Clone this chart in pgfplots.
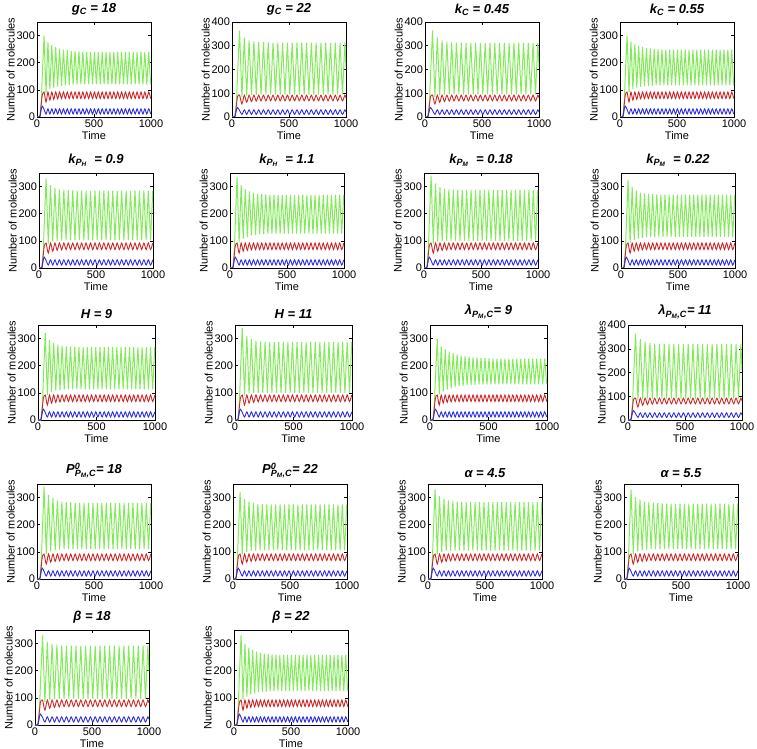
\documentclass[border=0pt]{standalone}
\usepackage{fontspec}
\setmainfont{Liberation Sans}
\usepackage{pgfplots}
\usepackage{pgfplotstable}
\pgfplotsset{compat=1.18}
\definecolor{cg}{RGB}{130,235,90}
\definecolor{cr}{RGB}{205,40,40}
\definecolor{cb}{RGB}{45,45,225}

% Group A: period ~34 (g_C=18, k_C=0.55, lambda=9, beta=22)
\pgfplotstableread{
t a1 a2 a3 a4 r b
0 0 0 0 0 0 0
25 0 0 0 0 2 2
38 60 60 60 70 50 30
46 150 150 150 170 80 40
62 300 300 298 332 92 28
79 90 92 95 95 55 11
96 275 278 270 300 92 30
113 102 103 105 105 62 11
130 265 268 260 285 92 30
147 108 108 112 112 65 11
164 258 262 252 276 92 30
181 112 111 117 117 67 11
198 252 258 246 270 92 30
215 115 113 121 120 68 11
232 248 255 242 266 92 30
249 117 115 124 122 68 11
266 246 253 238 263 92 30
283 118 116 126 123 68 11
300 244 251 235 261 92 30
317 119 117 128 124 68 11
334 243 250 233 260 92 30
351 120 117 129 125 68 11
368 242 249 231 259 92 30
385 120 117 130 125 68 11
402 241 248 230 258 92 30
419 120 117 131 125 68 11
436 240 248 229 258 92 30
453 120 117 131 125 68 11
470 240 248 228 258 92 30
487 120 117 131 125 68 11
504 240 248 227 258 92 30
521 120 117 131 125 68 11
538 240 248 226 258 92 30
555 120 117 131 125 68 11
572 240 248 226 258 92 30
589 120 117 131 125 68 11
606 240 248 226 258 92 30
623 120 117 131 125 68 11
640 240 248 226 258 92 30
657 120 117 131 125 68 11
674 240 248 226 258 92 30
691 120 117 131 125 68 11
708 240 248 226 258 92 30
725 120 117 131 125 68 11
742 240 248 226 258 92 30
759 120 117 131 125 68 11
776 240 248 226 258 92 30
793 120 117 131 125 68 11
810 240 248 226 258 92 30
827 120 117 131 125 68 11
844 240 248 226 258 92 30
861 120 117 131 125 68 11
878 240 248 226 258 92 30
895 120 117 131 125 68 11
912 240 248 226 258 92 30
929 120 117 131 125 68 11
946 240 248 226 258 92 30
963 120 117 131 125 68 11
980 240 248 226 258 92 30
997 120 117 131 125 68 11
}\tabA

% Group B: period ~36 (k_PH=1.1, k_PM=0.22, H=9)
\pgfplotstableread{
t b1 b2 b3 r b
0 0 0 0 0 0
25 0 0 0 2 2
38 65 60 60 50 30
46 160 150 150 80 40
62 335 325 320 92 28
80 95 92 92 55 11
98 305 298 295 92 30
116 108 103 103 62 11
134 290 285 285 92 30
152 115 108 108 65 11
170 282 278 278 92 30
188 119 111 110 67 11
206 277 275 274 92 30
224 122 113 112 68 11
242 274 273 271 92 30
260 124 114 113 68 11
278 272 272 270 92 30
296 125 115 113 68 11
314 271 271 269 92 30
332 126 115 113 68 11
350 270 270 268 92 30
368 127 115 113 68 11
386 269 270 268 92 30
404 127 115 113 68 11
422 269 270 268 92 30
440 127 115 113 68 11
458 269 270 268 92 30
476 127 115 113 68 11
494 269 270 268 92 30
512 127 115 113 68 11
530 269 270 268 92 30
548 127 115 113 68 11
566 269 270 268 92 30
584 127 115 113 68 11
602 269 270 268 92 30
620 127 115 113 68 11
638 269 270 268 92 30
656 127 115 113 68 11
674 269 270 268 92 30
692 127 115 113 68 11
710 269 270 268 92 30
728 127 115 113 68 11
746 269 270 268 92 30
764 127 115 113 68 11
782 269 270 268 92 30
800 127 115 113 68 11
818 269 270 268 92 30
836 127 115 113 68 11
854 269 270 268 92 30
872 127 115 113 68 11
890 269 270 268 92 30
908 127 115 113 68 11
926 269 270 268 92 30
944 127 115 113 68 11
962 269 270 268 92 30
980 127 115 113 68 11
998 269 270 268 92 30
}\tabB

% Group C: period ~39 (k_PH=0.9, k_PM=0.18, H=11, P0=18, P0=22, alpha=4.5, alpha=5.5)
\pgfplotstableread{
t c1 c2 c3 c4 c5 c6 c7 r b
0 0 0 0 0 0 0 0 0 0
25 0 0 0 0 0 0 0 2 2
38 65 65 65 65 60 65 65 50 30
46 160 165 165 165 155 160 160 80 40
62 330 340 338 340 320 332 330 92 28
81.5 90 90 90 92 92 92 92 55 11
101 305 312 310 310 295 305 302 92 30
120.5 98 97 97 102 100 100 102 62 11
140 295 298 298 298 285 295 292 92 30
159.5 100 99 99 106 104 103 106 65 11
179 290 292 292 290 280 290 286 92 30
198.5 101 100 100 108 105 104 108 67 11
218 288 290 290 285 277 287 283 92 30
237.5 102 100 100 110 106 105 110 68 11
257 287 289 288 283 276 285 281 92 30
276.5 102 100 100 110 106 105 110 68 11
296 286 288 287 282 275 284 280 92 30
315.5 102 100 100 110 106 105 110 68 11
335 285 288 287 281 275 283 279 92 30
354.5 102 100 100 110 106 105 110 68 11
374 285 288 287 280 275 283 278 92 30
393.5 102 100 100 110 106 105 110 68 11
413 285 288 287 280 275 283 278 92 30
432.5 102 100 100 110 106 105 110 68 11
452 285 288 287 280 275 283 278 92 30
471.5 102 100 100 110 106 105 110 68 11
491 285 288 287 280 275 283 278 92 30
510.5 102 100 100 110 106 105 110 68 11
530 285 288 287 280 275 283 278 92 30
549.5 102 100 100 110 106 105 110 68 11
569 285 288 287 280 275 283 278 92 30
588.5 102 100 100 110 106 105 110 68 11
608 285 288 287 280 275 283 278 92 30
627.5 102 100 100 110 106 105 110 68 11
647 285 288 287 280 275 283 278 92 30
666.5 102 100 100 110 106 105 110 68 11
686 285 288 287 280 275 283 278 92 30
705.5 102 100 100 110 106 105 110 68 11
725 285 288 287 280 275 283 278 92 30
744.5 102 100 100 110 106 105 110 68 11
764 285 288 287 280 275 283 278 92 30
783.5 102 100 100 110 106 105 110 68 11
803 285 288 287 280 275 283 278 92 30
822.5 102 100 100 110 106 105 110 68 11
842 285 288 287 280 275 283 278 92 30
861.5 102 100 100 110 106 105 110 68 11
881 285 288 287 280 275 283 278 92 30
900.5 102 100 100 110 106 105 110 68 11
920 285 288 287 280 275 283 278 92 30
939.5 102 100 100 110 106 105 110 68 11
959 285 288 287 280 275 283 278 92 30
978.5 102 100 100 110 106 105 110 68 11
998 285 288 287 280 275 283 278 92 30
}\tabC

% Group D: period ~42 (g_C=22, k_C=0.45, lambda=11, beta=18)
\pgfplotstableread{
t d1 d2 d3 d4 r b
0 0 0 0 0 0 0
25 0 0 0 0 2 2
40 70 70 70 65 55 32
48 170 170 170 155 85 40
66 365 365 365 330 92 28
87 85 85 85 85 55 11
108 335 335 340 305 92 30
129 90 91 88 92 62 11
150 322 322 330 298 92 30
171 92 94 90 95 65 11
192 318 317 325 295 92 30
213 93 95 90 96 67 11
234 316 314 322 293 92 30
255 94 95 90 96 68 11
276 315 313 321 292 92 30
297 94 95 90 96 68 11
318 314 312 320 292 92 30
339 94 95 90 96 68 11
360 313 312 320 292 92 30
381 94 95 90 96 68 11
402 313 312 320 292 92 30
423 94 95 90 96 68 11
444 313 312 320 292 92 30
465 94 95 90 96 68 11
486 313 312 320 292 92 30
507 94 95 90 96 68 11
528 313 312 320 292 92 30
549 94 95 90 96 68 11
570 313 312 320 292 92 30
591 94 95 90 96 68 11
612 313 312 320 292 92 30
633 94 95 90 96 68 11
654 313 312 320 292 92 30
675 94 95 90 96 68 11
696 313 312 320 292 92 30
717 94 95 90 96 68 11
738 313 312 320 292 92 30
759 94 95 90 96 68 11
780 313 312 320 292 92 30
801 94 95 90 96 68 11
822 313 312 320 292 92 30
843 94 95 90 96 68 11
864 313 312 320 292 92 30
885 94 95 90 96 68 11
906 313 312 320 292 92 30
927 94 95 90 96 68 11
948 313 312 320 292 92 30
969 94 95 90 96 68 11
990 313 312 320 292 92 30
1000 209 209 210 199 81 21
}\tabD

\pgfplotsset{panel/.style={
  scale only axis, width=114pt, height=95pt, anchor=south west,
  xmin=0, xmax=1000, ymin=0, ymax=350,
  xtick={0,500,1000}, ytick={0,100,200,300,400},
  tick align=inside, tick pos=both, major tick length=3pt,
  tick label style={font=\fontsize{11}{11}\selectfont},
  /pgf/number format/assume math mode=true,
  /pgf/number format/1000 sep={},
  scaled ticks=false,
  xlabel={Time}, ylabel={Number of molecules},
  label style={font=\fontsize{11}{11}\selectfont},
  xlabel style={yshift=3pt},
  ylabel style={yshift=-5pt},
  xticklabel style={yshift=1pt},
  yticklabel style={xshift=1.5pt},
  title style={font=\bfseries\itshape\fontsize{13}{14}\selectfont, yshift=-3pt},
  axis line style={black, line width=0.6pt},
  every tick/.style={black, line width=0.5pt},
  every axis plot/.append style={line width=0.9pt, no marks},
}}

\newcommand{\tri}[2]{%
  \addplot[cg, line width=1pt] table[x=t,y=#2]{#1};
  \addplot[cr, smooth] table[x=t,y=r]{#1};
  \addplot[cb, smooth] table[x=t,y=b]{#1};
}

\begin{document}
\begin{tikzpicture}[x=1pt,y=1pt]
\useasboundingbox (0,0) rectangle (757,748);

% Row 1
\begin{axis}[panel, at={(37pt,631pt)}, title={g\textsubscript{C} = 18}]
\tri{\tabA}{a1}
\end{axis}
\begin{axis}[panel, at={(232pt,631pt)}, ymax=400, title={g\textsubscript{C} = 22}]
\tri{\tabD}{d1}
\end{axis}
\begin{axis}[panel, at={(425pt,631pt)}, ymax=400, title={k\textsubscript{C} = 0.45}]
\tri{\tabD}{d2}
\end{axis}
\begin{axis}[panel, at={(620pt,631pt)}, title={k\textsubscript{C} = 0.55}]
\tri{\tabA}{a2}
\end{axis}

% Row 2
\begin{axis}[panel, at={(39pt,480pt)}, title={k\textsubscript{P\textsubscript{H}}\ \ = 0.9}]
\tri{\tabC}{c1}
\end{axis}
\begin{axis}[panel, at={(230pt,480pt)}, title={k\textsubscript{P\textsubscript{H}}\ \ = 1.1}]
\tri{\tabB}{b1}
\end{axis}
\begin{axis}[panel, at={(424pt,480pt)}, title={k\textsubscript{P\textsubscript{M}}\ \ = 0.18}]
\tri{\tabC}{c2}
\end{axis}
\begin{axis}[panel, at={(621pt,480pt)}, title={k\textsubscript{P\textsubscript{M}}\ \ = 0.22}]
\tri{\tabB}{b2}
\end{axis}

% Row 3
\begin{axis}[panel, at={(38pt,328pt)}, width=117pt, title={H = 9}]
\tri{\tabB}{b3}
\end{axis}
\begin{axis}[panel, at={(235pt,328pt)}, width=117pt, title={H = 11}]
\tri{\tabC}{c3}
\end{axis}
\begin{axis}[panel, at={(430pt,328pt)}, width=117pt, title={λ\textsubscript{P\textsubscript{M},C}= 9}]
\tri{\tabA}{a3}
\end{axis}
\begin{axis}[panel, at={(628pt,328pt)}, ymax=400, title={λ\textsubscript{P\textsubscript{M},C}= 11}]
\tri{\tabD}{d3}
\end{axis}

% Row 4
\begin{axis}[panel, at={(37pt,169pt)}, title={P\rlap{\textsuperscript{0}}\textsubscript{P\textsubscript{M},C}= 18}]
\tri{\tabC}{c4}
\end{axis}
\begin{axis}[panel, at={(233pt,169pt)}, title={P\rlap{\textsuperscript{0}}\textsubscript{P\textsubscript{M},C}= 22}]
\tri{\tabC}{c5}
\end{axis}
\begin{axis}[panel, at={(428pt,169pt)}, title={α = 4.5}]
\tri{\tabC}{c6}
\end{axis}
\begin{axis}[panel, at={(624pt,169pt)}, title={α = 5.5}]
\tri{\tabC}{c7}
\end{axis}

% Row 5
\begin{axis}[panel, at={(35pt,23pt)}, title={β = 18}]
\tri{\tabD}{d4}
\end{axis}
\begin{axis}[panel, at={(234pt,23pt)}, title={β = 22}]
\tri{\tabA}{a4}
\end{axis}
\end{tikzpicture}
\end{document}
